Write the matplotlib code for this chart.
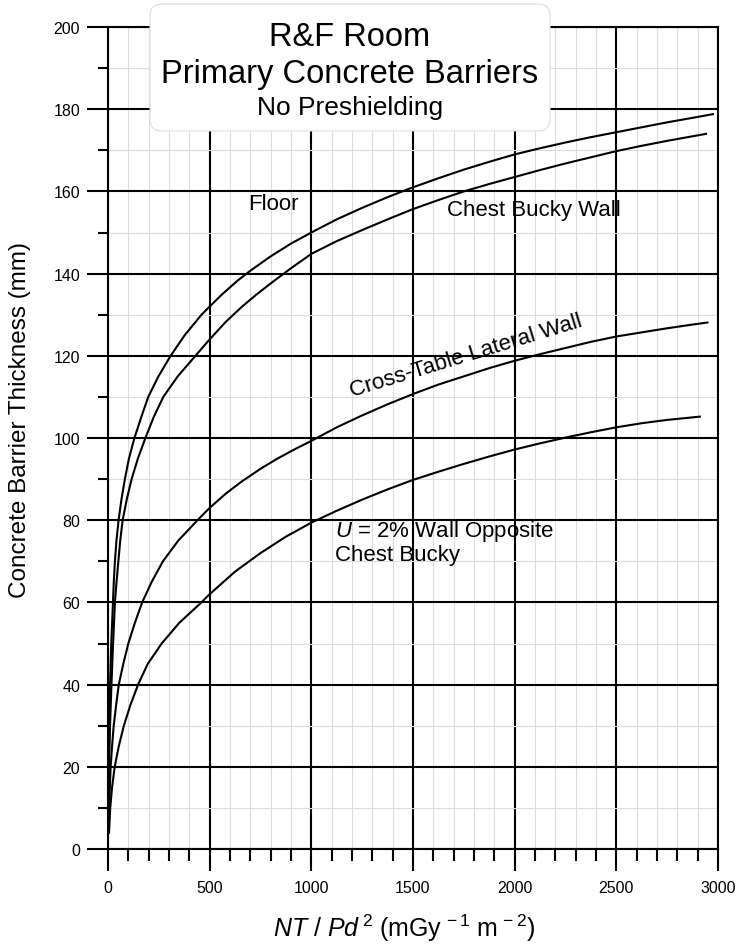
import matplotlib
matplotlib.use('Agg')
import matplotlib.pyplot as plt
from matplotlib.patches import FancyBboxPatch
from matplotlib.ticker import MultipleLocator

plt.rcParams['font.family'] = ['Liberation Sans', 'DejaVu Sans']
plt.rcParams['mathtext.fontset'] = 'custom'
plt.rcParams['mathtext.rm'] = 'Liberation Sans'
plt.rcParams['mathtext.it'] = 'Liberation Sans:italic'

# curves (NT/Pd^2, thickness in mm)
floor_x = [1.5, 2.5, 4, 6.5, 10, 16, 24.5, 28.5, 34, 41.5, 52, 66, 83, 103, 130, 163,
           198, 248, 308, 377, 460, 500, 560, 635, 700, 800, 900, 1000, 1125, 1250,
           1375, 1500, 1625, 1750, 1875, 2000, 2125, 2250, 2375, 2500, 2625, 2750,
           2875, 2975]
floor_y = [4, 10, 20, 30, 40, 50, 60, 65, 70, 75, 80, 85, 90, 95, 100, 105,
           110, 115, 120, 125, 130, 132, 134.9, 138.2, 140.7, 144.2, 147.3, 150, 153.2, 156,
           158.6, 161, 163.2, 165.3, 167.2, 169, 170.5, 171.9, 173.2, 174.4, 175.6, 176.8,
           177.9, 178.8]

chest_x = [2, 3, 5, 10, 17, 25, 34, 42, 51, 60, 72, 92, 116, 147, 184, 224, 272,
           343, 430, 500, 580, 660, 730, 805, 900, 1000, 1125, 1250, 1375, 1500,
           1625, 1750, 1875, 2000, 2125, 2250, 2375, 2500, 2625, 2750, 2941]
chest_y = [4, 10, 20, 30, 40, 50, 60, 65, 70, 75, 80, 85, 90, 95, 100, 105, 110,
           115, 120, 124, 128.3, 132, 134.9, 137.8, 141.3, 144.8, 147.9, 150.6, 153.2, 155.7,
           157.9, 160, 161.8, 163.5, 165.2, 166.8, 168.3, 169.8, 171.1, 172.3, 174]

cross_x = [3, 6, 9, 13, 20, 28, 40, 53, 75, 100, 132, 168, 215, 270, 345, 440, 500,
           580, 660, 750, 830, 920, 1000, 1125, 1250, 1375, 1500, 1625, 1750, 1875,
           2000, 2125, 2250, 2375, 2500, 2625, 2750, 2875, 2948]
cross_y = [4, 10, 15, 20, 25, 30, 35, 40, 45, 50, 55, 60, 65, 70, 75, 80, 83,
           86.5, 89.5, 92.5, 94.9, 97.3, 99.3, 102.6, 105.5, 108.2, 110.7, 113, 115, 117,
           118.8, 120.4, 121.9, 123.4, 124.7, 125.7, 126.7, 127.6, 128.1]

opp_x = [5, 11, 20, 33, 53, 78, 110, 148, 195, 264, 350, 455, 500, 625, 750, 875,
         1000, 1125, 1250, 1375, 1500, 1625, 1750, 1875, 2000, 2125, 2250, 2375,
         2500, 2625, 2750, 2911]
opp_y = [4, 10, 15, 20, 25, 30, 35, 40, 45, 50, 55, 59.8, 62, 67.5, 72, 76,
         79.4, 82.3, 85, 87.5, 89.8, 91.8, 93.7, 95.5, 97.2, 98.7, 100.1, 101.4,
         102.6, 103.6, 104.4, 105.2]

fig = plt.figure(figsize=(7.38, 9.45), dpi=100)
ax = fig.add_axes([108 / 738, 1 - 850 / 945, 610 / 738, 822 / 945])

for xs, ys in [(floor_x, floor_y), (chest_x, chest_y), (cross_x, cross_y), (opp_x, opp_y)]:
    ax.plot(xs, ys, color='black', lw=1.5, zorder=3, solid_joinstyle='round')

ax.set_xlim(0, 3000)
ax.set_ylim(0, 200)
ax.xaxis.set_major_locator(MultipleLocator(500))
ax.xaxis.set_minor_locator(MultipleLocator(100))
ax.yaxis.set_major_locator(MultipleLocator(20))
ax.yaxis.set_minor_locator(MultipleLocator(10))

ax.set_axisbelow(True)
ax.grid(which='minor', color='#dcdcdc', lw=0.8)
ax.grid(which='major', color='black', lw=1.5)
for s in ax.spines.values():
    s.set_linewidth(1.5)

ax.tick_params(axis='x', which='major', direction='out', length=16, width=1.5,
               labelsize=11.5, pad=6)
ax.tick_params(axis='x', which='minor', direction='out', length=8.5, width=1.5)
ax.tick_params(axis='y', which='major', direction='out', length=15, width=1.5,
               labelsize=11.5, pad=5)
ax.tick_params(axis='y', which='minor', direction='out', length=7.5, width=1.5)

ax.set_xlabel(r'$\mathit{NT\ /\ Pd}^{\,\mathrm{2}}$ (mGy$^{\,-1}$ m$^{\,-2}$)', fontsize=18)
ax.xaxis.set_label_coords((404 - 108) / 610, (850 - 913) / 822)
ax.set_ylabel('Concrete Barrier Thickness (mm)', fontsize=17.5)
ax.yaxis.set_label_coords((31 - 108) / 610, 0.523)

# curve labels
ax.text(689, 157, 'Floor', fontsize=16, va='center', ha='left')
ax.text(1667, 155.7, 'Chest Bucky Wall', fontsize=16, va='center', ha='left')
ax.text(1200, 110.3, 'Cross-Table Lateral Wall', fontsize=16, va='baseline', ha='left',
        rotation=17, rotation_mode='anchor')
ax.text(1116, 77.6, r'$\mathit{U}$ = 2% Wall Opposite', fontsize=16, va='center', ha='left')
ax.text(1116, 71.6, 'Chest Bucky', fontsize=16, va='center', ha='left')

# title box
box = FancyBboxPatch((1.50, 8.13), 4.00, 1.27,
                     boxstyle='round,pad=0,rounding_size=0.12',
                     transform=fig.dpi_scale_trans, fc='white', ec='#dddddd',
                     lw=0.8, zorder=5)
fig.add_artist(box)
fig.text(350 / 738, 1 - 37 / 945, 'R&F Room', ha='center', va='center', fontsize=23.5, zorder=6)
fig.text(350 / 738, 1 - 75 / 945, 'Primary Concrete Barriers', ha='center', va='center',
         fontsize=23.5, zorder=6)
fig.text(350 / 738, 1 - 108 / 945, 'No Preshielding', ha='center', va='center',
         fontsize=19, zorder=6)

fig.savefig('out.png', dpi=100)
